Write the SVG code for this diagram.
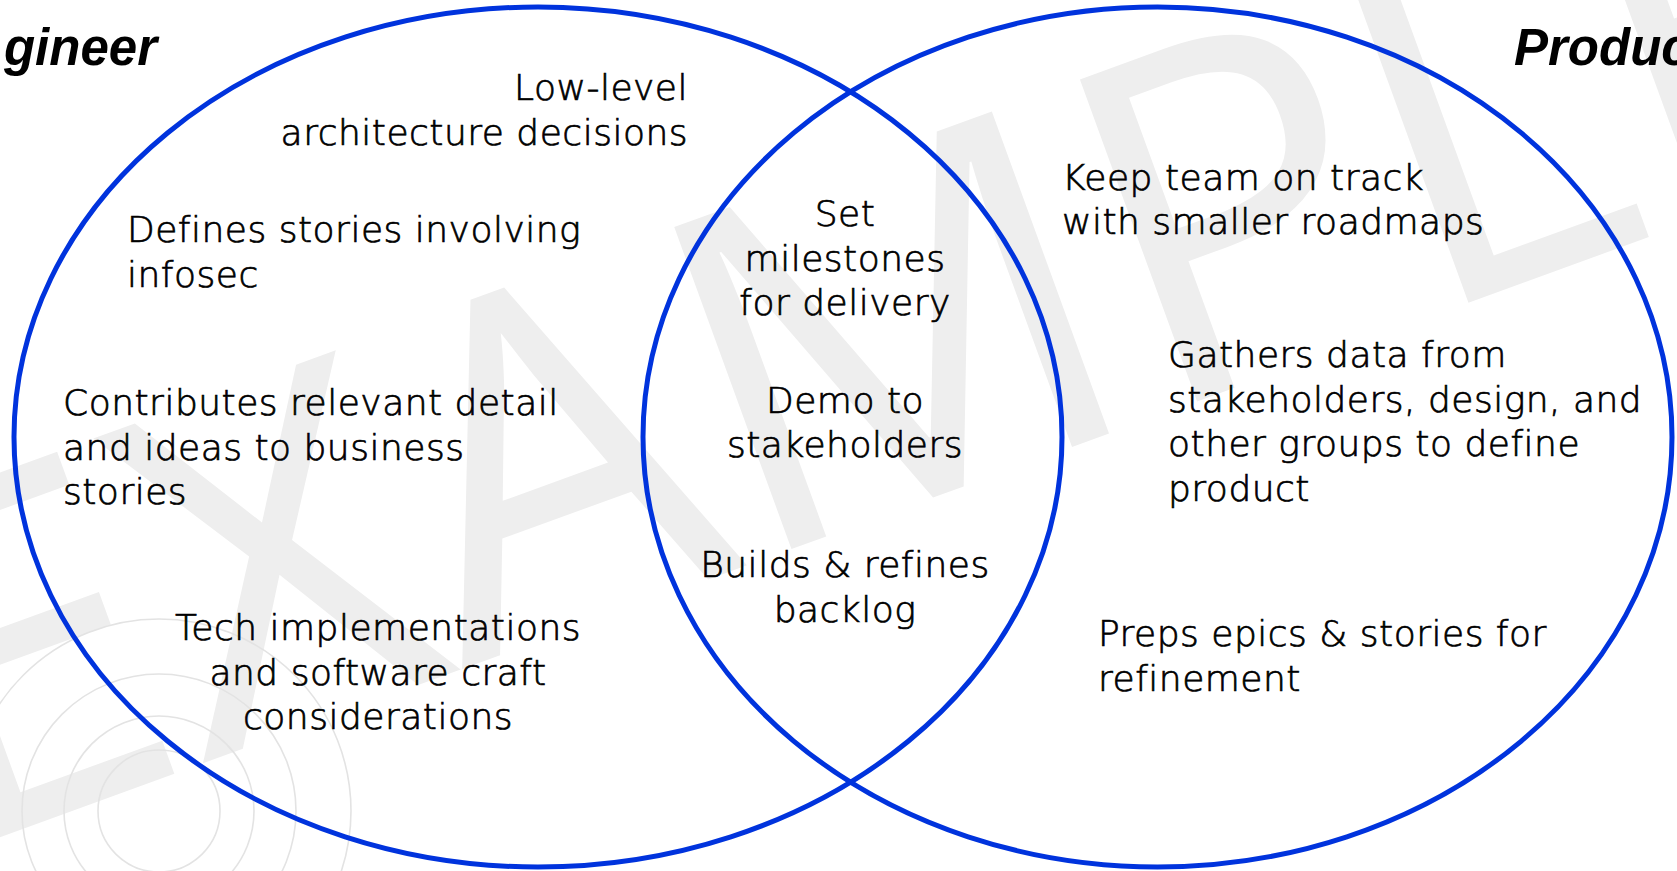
<svg xmlns="http://www.w3.org/2000/svg" width="1677" height="871" viewBox="0 0 1677 871">
<style>
.wm{font-family:"Open Sans","DejaVu Sans",sans-serif;font-weight:400;font-size:480px;fill:#eeeeee}
.ring{fill:none;stroke:#e3e3e3;stroke-width:1.6}
.venn{fill:none;stroke:#0033DD;stroke-width:5}
.t{font-family:"DejaVu Sans","Liberation Sans",sans-serif;font-size:36px;font-weight:300;fill:#000;stroke:#000;stroke-width:0.7;letter-spacing:0.5px}
.title{font-family:"Liberation Sans",Arial,sans-serif;font-size:51px;font-weight:bold;font-style:italic;fill:#000}
</style>
<rect x="0" y="0" width="1677" height="871" fill="#ffffff"/>
<g id="watermark">
<text class="wm" transform="translate(-49,855) rotate(-20)">EXAMPLE</text>
<circle class="ring" cx="159" cy="811" r="61"/>
<circle class="ring" cx="159" cy="811" r="95"/>
<circle class="ring" cx="159" cy="811" r="137"/>
<circle class="ring" cx="159" cy="811" r="192"/>
</g>
<g id="engineer-circle">
<ellipse class="venn" cx="538" cy="437" rx="524" ry="430"/>
<text class="title" x="157" y="65" text-anchor="end">gineer</text>
</g>
<g id="product-circle">
<ellipse class="venn" cx="1157.5" cy="437" rx="514.5" ry="430"/>
<text class="title" x="1514" y="65">Produc</text>
</g>
<g id="eng-low-level">
<text class="t" text-anchor="end"><tspan x="688" y="100">Low-level</tspan><tspan x="688" y="144.5">architecture decisions</tspan></text>
</g>
<g id="eng-infosec">
<text class="t"><tspan x="127" y="242">Defines stories involving</tspan><tspan x="127" y="286.5">infosec</tspan></text>
</g>
<g id="eng-contributes">
<text class="t"><tspan x="63" y="415">Contributes relevant detail</tspan><tspan x="63" y="459.5">and ideas to business</tspan><tspan x="63" y="504">stories</tspan></text>
</g>
<g id="eng-tech">
<text class="t" text-anchor="middle"><tspan x="378" y="640">Tech implementations</tspan><tspan x="378" y="684.5">and software craft</tspan><tspan x="378" y="729">considerations</tspan></text>
</g>
<g id="shared-milestones">
<text class="t" text-anchor="middle"><tspan x="845" y="226">Set</tspan><tspan x="845" y="270.5">milestones</tspan><tspan x="845" y="315">for delivery</tspan></text>
</g>
<g id="shared-demo">
<text class="t" text-anchor="middle"><tspan x="845" y="413">Demo to</tspan><tspan x="845" y="457">stakeholders</tspan></text>
</g>
<g id="shared-backlog">
<text class="t" text-anchor="middle"><tspan x="845" y="577">Builds &amp; refines</tspan><tspan x="845" y="621.5">backlog</tspan></text>
</g>
<g id="po-track">
<text class="t"><tspan x="1062" y="189.5">Keep team on track</tspan><tspan x="1062" y="234">with smaller roadmaps</tspan></text>
</g>
<g id="po-gathers">
<text class="t"><tspan x="1168" y="367">Gathers data from</tspan><tspan x="1168" y="411.5">stakeholders, design, and</tspan><tspan x="1168" y="456">other groups to define</tspan><tspan x="1168" y="500.5">product</tspan></text>
</g>
<g id="po-preps">
<text class="t"><tspan x="1098" y="646">Preps epics &amp; stories for</tspan><tspan x="1098" y="690.5">refinement</tspan></text>
</g>
</svg>
